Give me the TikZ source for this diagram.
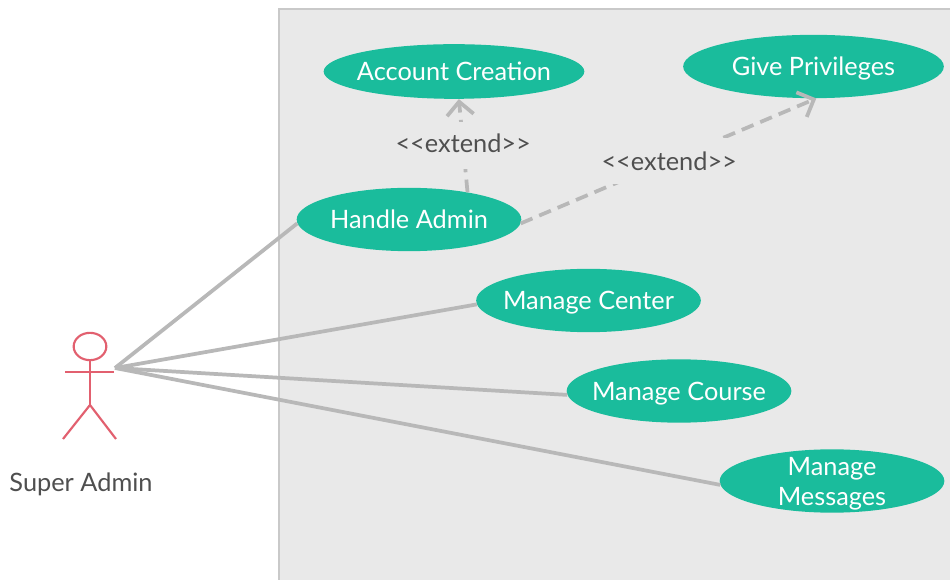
\documentclass[tikz,border=0pt]{standalone}
\usepackage{fontspec}
\setmainfont{Lato}
\usetikzlibrary{shapes.geometric,arrows.meta}
\definecolor{panelfill}{HTML}{E9E9E9}
\definecolor{panelline}{HTML}{C9C9C9}
\definecolor{usecase}{HTML}{1ABC9C}
\definecolor{conn}{HTML}{B8B8B8}
\definecolor{actorline}{HTML}{E2606F}
\definecolor{labeltext}{HTML}{4F4F4F}
\newcommand{\flattext}[2][-7pt]{\raisebox{#1}[0pt][0pt]{\makebox[0pt][c]{#2}}}
\tikzset{
  usecasenode/.style={ellipse,fill=usecase,text=white,inner sep=0pt,
    minimum width=168.5pt,minimum height=47.5pt,font=\fontsize{19pt}{22.5pt}\selectfont},
  assoc/.style={draw=conn,line width=2.8pt},
  extendline/.style={draw=conn,line width=2.8pt,dash pattern=on 9.5pt off 5.5pt,
    -{Straight Barb[length=10pt,width=20pt,line width=2.8pt]}},
  extendlabel/.style={fill=panelfill,text=labeltext,inner sep=0pt,minimum width=78pt,minimum height=35pt,
    font=\fontsize{19pt}{22.5pt}\selectfont},
  actorpart/.style={draw=actorline,line width=1.6pt},
  actorname/.style={text=labeltext,font=\fontsize{19pt}{22pt}\selectfont}
}
\begin{document}
\begin{tikzpicture}[x=0.75pt,y=-0.75pt]
\useasboundingbox (0,0) rectangle (950,580);
\fill[white] (0,0) rectangle (950,580);
\fill[panelfill] (279,9) rectangle (950,580);
\draw[panelline,line width=1.2pt] (950,9) -- (279,9) -- (279,580);

% actor
\node[actorpart,ellipse,inner sep=0pt,minimum width=24.5pt,minimum height=20.5pt] (head) at (90,346.5) {};
\coordinate (armL) at (65,372);
\coordinate (armR) at (114,372);
\coordinate (hip) at (90,405);
\coordinate (footL) at (63,439);
\coordinate (footR) at (116,439);
\coordinate (actor) at (115,368);
\draw[actorpart] (head.south) -- (hip);
\draw[actorpart] (armL) -- (armR);
\draw[actorpart] (footL) -- (hip) -- (footR);
\node[actorname] (name) at (81,484) {Super Admin};

% use cases
\node[usecasenode,minimum height=41pt,minimum width=195.5pt] (acc) at (454,71.5) {\flattext{Account Creation}};
\node[usecasenode,minimum width=195.5pt] (give) at (813.5,66.5) {\flattext{Give Privileges}};
\node[usecasenode] (handle) at (409,219.5) {\flattext{Handle Admin}};
\node[usecasenode] (center) at (588.5,300.5) {\flattext{Manage Center}};
\node[usecasenode] (course) at (679,391) {\flattext{Manage Course}};
\node[usecasenode] (msgs) at (832,481) {\flattext[-6.5pt]{\parbox[c]{150pt}{\centering Manage\\[0pt]Messages}}};

% associations
\draw[assoc] (actor) -- (handle.182);
\draw[assoc] (actor) -- (center.182);
\draw[assoc] (actor) -- (course.182);
\draw[assoc] (actor) -- (msgs.182);

% extends
\draw[extendline] (handle.25) -- node[extendlabel] (ext1) {\flattext[-5.3pt]{<{}<extend>{}>}} (acc.-80);
\draw[extendline] (handle.-2) -- node[extendlabel,minimum width=100pt] (ext2) {\flattext[-7pt]{\hspace{1pt}<{}<extend>{}>}} (give.-85);
\end{tikzpicture}
\end{document}
